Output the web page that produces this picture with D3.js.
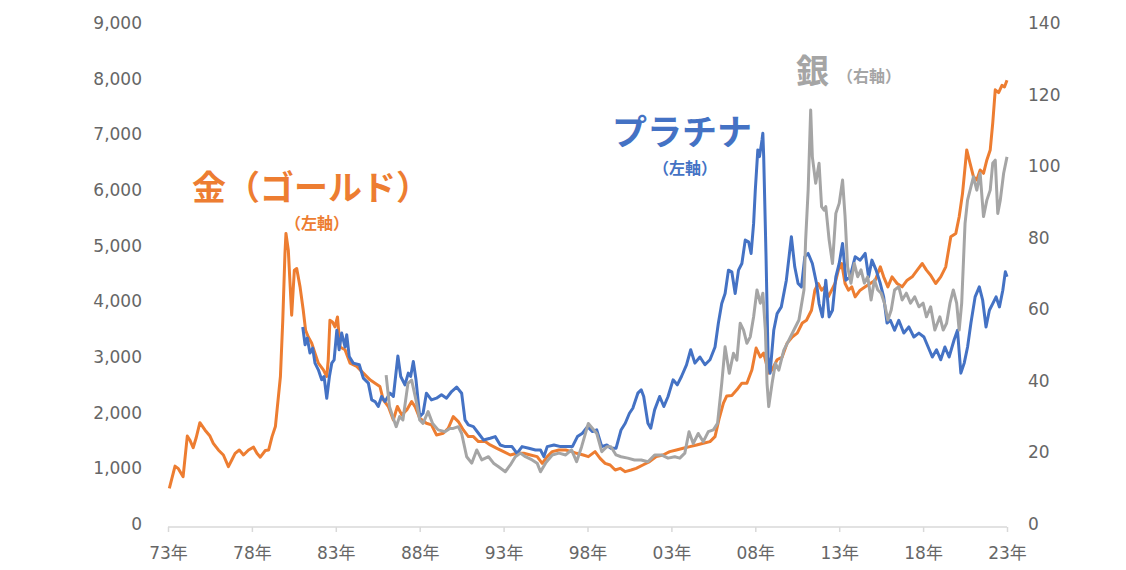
<!DOCTYPE html>
<html>
<head>
<meta charset="utf-8">
<script src="https://cdn.jsdelivr.net/npm/d3@7"></script>
<style>
  body { margin: 0; background: #fff; }
  .axis text { font-family: "DejaVu Sans", "Noto Sans CJK JP", sans-serif; font-size: 17px; fill: #666; }
  .note { font-family: "Noto Sans CJK JP", sans-serif; font-weight: 700; }
</style>
</head>
<body>
<svg id="chart" width="1126" height="570"></svg>
<script>
// tick labels
var xTickYears = [1973, 1978, 1983, 1988, 1993, 1998, 2003, 2008, 2013, 2018, 2023];
var xTickLabels = ['73年', '78年', '83年', '88年', '93年', '98年', '03年', '08年', '13年', '18年', '23年'];
var leftTicks = [0, 1000, 2000, 3000, 4000, 5000, 6000, 7000, 8000, 9000];
var rightTicks = [0, 20, 40, 60, 80, 100, 120, 140];

// gold (left axis) [year, value]
var gold = [[1973.08,640],[1973.42,1040],[1973.6,1000],[1973.9,850],[1974.15,1580],[1974.3,1510],[1974.5,1370],[1974.67,1540],[1974.9,1820],[1975.2,1690],[1975.5,1580],[1975.7,1450],[1976.0,1330],[1976.3,1240],[1976.6,1030],[1976.8,1150],[1977.0,1270],[1977.25,1330],[1977.5,1240],[1977.8,1330],[1978.1,1380],[1978.3,1270],[1978.5,1200],[1978.8,1320],[1979.0,1330],[1979.2,1570],[1979.4,1750],[1979.5,2050],[1979.7,2650],[1979.84,3660],[1979.97,4860],[1980.03,5220],[1980.17,4920],[1980.37,3750],[1980.53,4560],[1980.67,4590],[1980.87,4260],[1981.06,3840],[1981.2,3480],[1981.36,3360],[1981.56,3250],[1981.76,3070],[1981.96,2890],[1982.26,2770],[1982.46,2650],[1982.55,2950],[1982.65,3660],[1982.8,3630],[1982.95,3540],[1983.1,3720],[1983.25,3180],[1983.55,3130],[1983.85,2890],[1984.25,2830],[1984.64,2710],[1985.04,2590],[1985.34,2530],[1985.63,2470],[1985.83,2230],[1986.13,2110],[1986.43,1870],[1986.67,2110],[1986.93,1960],[1987.23,2050],[1987.52,2200],[1987.72,2110],[1988.0,1900],[1988.4,1810],[1988.7,1780],[1989.0,1600],[1989.4,1630],[1989.7,1720],[1990.0,1930],[1990.3,1840],[1990.6,1690],[1990.9,1570],[1991.2,1570],[1991.5,1480],[1991.9,1480],[1992.2,1420],[1992.6,1360],[1993.0,1300],[1993.4,1240],[1993.8,1270],[1994.2,1270],[1994.6,1240],[1995.0,1210],[1995.3,1090],[1995.6,1210],[1995.9,1300],[1996.3,1330],[1996.7,1330],[1997.05,1300],[1997.35,1270],[1997.75,1240],[1998.05,1210],[1998.45,1300],[1998.75,1180],[1999.05,1090],[1999.35,1060],[1999.65,970],[1999.95,1000],[2000.25,940],[2000.6,970],[2000.9,1000],[2001.3,1060],[2001.7,1120],[2002.1,1210],[2002.5,1240],[2002.9,1300],[2003.3,1330],[2003.7,1360],[2004.1,1390],[2004.5,1420],[2004.9,1450],[2005.3,1480],[2005.6,1570],[2005.85,1900],[2006.1,2170],[2006.3,2300],[2006.6,2310],[2006.9,2410],[2007.2,2530],[2007.5,2530],[2007.8,2770],[2008.05,3160],[2008.3,3000],[2008.5,3070],[2008.8,2710],[2009.0,2770],[2009.3,2950],[2009.6,3000],[2009.9,3250],[2010.2,3360],[2010.5,3430],[2010.8,3610],[2011.05,3660],[2011.35,3840],[2011.55,4200],[2011.75,4320],[2011.95,4200],[2012.15,4260],[2012.35,4080],[2012.55,4200],[2012.75,4320],[2012.95,4560],[2013.15,4680],[2013.35,4320],[2013.55,4200],[2013.75,4260],[2013.95,4080],[2014.25,4200],[2014.55,4260],[2014.85,4320],[2015.15,4380],[2015.45,4620],[2015.65,4440],[2015.9,4260],[2016.15,4440],[2016.45,4320],[2016.75,4260],[2017.05,4380],[2017.35,4440],[2017.65,4560],[2017.95,4680],[2018.2,4560],[2018.45,4470],[2018.75,4320],[2019.05,4440],[2019.35,4620],[2019.65,5160],[2019.95,5220],[2020.15,5520],[2020.35,5940],[2020.6,6720],[2020.8,6480],[2021.0,6240],[2021.2,6180],[2021.4,6360],[2021.6,6300],[2021.8,6540],[2022.0,6720],[2022.15,7200],[2022.3,7800],[2022.5,7750],[2022.7,7880],[2022.85,7850],[2023.0,7970]];

// platinum (left axis)
var platinum = [[1981.03,3540],[1981.17,3220],[1981.3,3340],[1981.46,3070],[1981.62,3160],[1981.76,2890],[1981.96,2770],[1982.16,2590],[1982.3,2650],[1982.46,2260],[1982.62,2650],[1982.76,2890],[1982.9,2950],[1983.06,3480],[1983.2,3130],[1983.35,3430],[1983.55,3180],[1983.65,3400],[1983.8,3010],[1984.04,2890],[1984.4,2860],[1984.64,2620],[1984.94,2530],[1985.14,2230],[1985.34,2200],[1985.53,2110],[1985.73,2290],[1985.93,2200],[1986.23,2350],[1986.43,2290],[1986.7,3020],[1986.87,2650],[1987.12,2500],[1987.32,2710],[1987.46,2650],[1987.62,2920],[1987.78,2590],[1988.0,1930],[1988.2,1990],[1988.4,2350],[1988.7,2230],[1989.0,2260],[1989.3,2320],[1989.6,2260],[1989.9,2380],[1990.2,2460],[1990.5,2350],[1990.7,1870],[1990.9,1780],[1991.2,1750],[1991.5,1630],[1991.8,1510],[1992.2,1540],[1992.5,1570],[1992.8,1420],[1993.1,1390],[1993.5,1390],[1993.8,1270],[1994.1,1390],[1994.5,1360],[1994.9,1330],[1995.2,1330],[1995.4,1210],[1995.6,1390],[1996.0,1420],[1996.4,1390],[1996.8,1390],[1997.1,1390],[1997.4,1570],[1997.7,1630],[1998.0,1750],[1998.3,1660],[1998.55,1690],[1998.85,1390],[1999.15,1420],[1999.4,1360],[1999.7,1360],[2000.0,1690],[2000.25,1810],[2000.5,1990],[2000.7,2080],[2001.0,2350],[2001.2,2410],[2001.35,2290],[2001.6,1810],[2001.77,1720],[2002.0,2050],[2002.3,2290],[2002.55,2110],[2002.8,2290],[2003.1,2590],[2003.35,2500],[2003.6,2650],[2003.9,2860],[2004.15,3130],[2004.4,2890],[2004.7,3000],[2005.0,2860],[2005.3,2950],[2005.6,3180],[2005.8,3610],[2006.0,3960],[2006.2,4140],[2006.4,4560],[2006.6,4530],[2006.8,4140],[2007.0,4560],[2007.2,4680],[2007.4,5100],[2007.6,5070],[2007.75,4860],[2007.9,5400],[2008.0,6000],[2008.15,6720],[2008.25,6600],[2008.4,6900],[2008.45,7020],[2008.5,6600],[2008.64,4800],[2008.76,3000],[2008.88,2710],[2009.1,3480],[2009.3,3780],[2009.55,3900],[2009.85,4380],[2010.15,5160],[2010.35,4620],[2010.55,4320],[2010.75,4260],[2010.95,4800],[2011.15,4860],[2011.4,4680],[2011.65,4320],[2011.8,3960],[2012.0,3720],[2012.2,4380],[2012.4,3720],[2012.6,3840],[2012.8,4440],[2013.0,4680],[2013.2,5040],[2013.4,4380],[2013.65,4440],[2013.95,4800],[2014.25,4740],[2014.55,4860],[2014.75,4440],[2014.95,4740],[2015.2,4560],[2015.45,4320],[2015.65,4080],[2015.85,3610],[2016.05,3660],[2016.3,3480],[2016.55,3660],[2016.85,3430],[2017.15,3540],[2017.45,3360],[2017.75,3430],[2018.05,3360],[2018.3,3180],[2018.55,3000],[2018.8,3130],[2019.05,2950],[2019.3,3180],[2019.55,3000],[2019.85,3310],[2020.05,3480],[2020.25,2710],[2020.45,2890],[2020.65,3180],[2020.85,3610],[2021.1,4080],[2021.35,4260],[2021.55,4020],[2021.75,3540],[2021.95,3840],[2022.15,3960],[2022.35,4080],[2022.55,3900],[2022.75,4200],[2022.9,4530],[2023.0,4440]];

// silver (right axis)
var silver = [[1986.0,41.6],[1986.2,32.8],[1986.43,29.5],[1986.6,27.2],[1986.8,30.0],[1987.0,29.1],[1987.3,39.3],[1987.52,40.2],[1987.78,34.6],[1988.0,29.1],[1988.2,28.1],[1988.5,31.4],[1988.77,28.1],[1989.1,26.3],[1989.5,25.8],[1989.8,26.7],[1990.0,26.7],[1990.3,27.2],[1990.5,25.3],[1990.8,18.8],[1991.1,17.0],[1991.4,20.7],[1991.7,17.9],[1992.1,18.8],[1992.4,17.0],[1992.7,16.0],[1993.1,14.6],[1993.4,16.5],[1993.7,18.8],[1994.0,19.8],[1994.3,18.8],[1994.7,17.9],[1995.0,17.0],[1995.2,14.6],[1995.5,17.0],[1995.9,19.3],[1996.3,19.8],[1996.7,19.3],[1997.05,20.7],[1997.35,17.4],[1997.65,21.6],[1998.05,28.1],[1998.3,26.7],[1998.55,25.3],[1998.85,20.2],[1999.15,21.6],[1999.4,21.6],[1999.7,19.3],[2000.0,18.8],[2000.4,18.4],[2000.8,17.9],[2001.2,17.9],[2001.6,17.4],[2002.0,19.3],[2002.4,19.3],[2002.8,18.4],[2003.2,18.8],[2003.5,18.4],[2003.8,19.8],[2004.05,25.8],[2004.3,22.5],[2004.6,25.3],[2004.9,23.0],[2005.2,25.8],[2005.5,26.3],[2005.75,28.1],[2006.0,39.3],[2006.2,49.5],[2006.45,42.1],[2006.7,47.7],[2006.9,45.8],[2007.1,56.1],[2007.3,54.2],[2007.5,50.5],[2007.7,52.3],[2007.9,57.9],[2008.1,65.4],[2008.3,61.7],[2008.45,64.5],[2008.6,54.2],[2008.7,39.3],[2008.8,32.8],[2009.0,39.3],[2009.2,44.9],[2009.4,43.0],[2009.7,48.6],[2010.0,51.4],[2010.3,54.2],[2010.6,57.0],[2010.9,65.4],[2011.0,79.4],[2011.15,93.3],[2011.3,115.7],[2011.4,102.6],[2011.6,95.2],[2011.8,100.8],[2011.95,88.7],[2012.1,87.7],[2012.2,88.7],[2012.4,79.4],[2012.6,72.8],[2012.8,86.8],[2013.0,89.6],[2013.2,96.1],[2013.35,85.9],[2013.5,71.9],[2013.7,67.3],[2013.9,72.8],[2014.1,69.1],[2014.3,71.0],[2014.5,67.3],[2014.7,69.1],[2014.9,62.6],[2015.1,68.2],[2015.3,65.4],[2015.5,64.5],[2015.7,61.7],[2015.9,57.0],[2016.1,59.8],[2016.3,65.4],[2016.55,66.3],[2016.75,62.6],[2017.0,64.5],[2017.25,61.7],[2017.5,63.5],[2017.75,60.7],[2018.0,61.7],[2018.2,57.9],[2018.45,60.7],[2018.7,54.2],[2019.0,57.9],[2019.2,54.2],[2019.4,56.1],[2019.6,61.7],[2019.8,65.4],[2020.0,61.7],[2020.15,54.2],[2020.3,61.7],[2020.5,84.0],[2020.65,90.5],[2020.8,93.3],[2021.0,97.0],[2021.2,93.3],[2021.4,98.0],[2021.6,85.9],[2021.8,90.5],[2022.0,93.3],[2022.15,100.8],[2022.3,101.7],[2022.45,86.8],[2022.6,90.5],[2022.8,98.0],[2023.0,102.6]];

var svg = d3.select('#chart');

var x = d3.scaleLinear().domain([1973, 2023]).range([168, 1007]);
var yL = d3.scaleLinear().domain([0, 9000]).range([524, 23]);
var yR = d3.scaleLinear().domain([0, 140]).range([524, 23]);

// left axis
var axL = svg.append('g').attr('class', 'axis').attr('transform', 'translate(142,0)')
  .call(d3.axisLeft(yL).tickValues(leftTicks).tickSize(0).tickPadding(0).tickFormat(d3.format(',')));
axL.select('.domain').remove();

// right axis
var axR = svg.append('g').attr('class', 'axis').attr('transform', 'translate(1028,0)')
  .call(d3.axisRight(yR).tickValues(rightTicks).tickSize(0).tickPadding(0));
axR.select('.domain').remove();

// bottom axis
var axB = svg.append('g').attr('class', 'axis').attr('transform', 'translate(0,527)')
  .call(d3.axisBottom(x).tickValues(xTickYears).tickSize(5).tickPadding(15)
    .tickFormat(function (d, i) { return xTickLabels[i]; }));
axB.select('.domain').attr('stroke', '#d9d9d9').attr('stroke-width', 1.5).attr('d', 'M168,0H1007');
axB.selectAll('line').attr('stroke', '#d9d9d9').attr('stroke-width', 1.5);

function lineL(d) { return d3.line().x(function (p) { return x(p[0]); }).y(function (p) { return yL(p[1]); })(d); }
function lineR(d) { return d3.line().x(function (p) { return x(p[0]); }).y(function (p) { return yR(p[1]); })(d); }

svg.append('path').attr('d', lineL(gold)).attr('fill', 'none').attr('stroke', '#ED7D31')
  .attr('stroke-width', 3).attr('stroke-linejoin', 'round');
svg.append('path').attr('d', lineL(platinum)).attr('fill', 'none').attr('stroke', '#4472C4')
  .attr('stroke-width', 3).attr('stroke-linejoin', 'round');
svg.append('path').attr('d', lineR(silver)).attr('fill', 'none').attr('stroke', '#A5A5A5')
  .attr('stroke-width', 3).attr('stroke-linejoin', 'round');

// annotations
function note(txt, px, py, size, color, anchor) {
  svg.append('text').attr('class', 'note').attr('x', px).attr('y', py)
    .attr('font-size', size).attr('fill', color).attr('text-anchor', anchor || 'start')
    .attr('dominant-baseline', 'central').text(txt);
}
note('金（ゴールド）', 192, 185, 34, '#ED7D31');
note('（左軸）', 317, 222, 16, '#ED7D31', 'middle');
note('プラチナ', 612, 129, 35, '#4472C4');
note('（左軸）', 685, 167, 16, '#4472C4', 'middle');
note('銀', 796, 69, 33, '#A5A5A5');
note('（右軸）', 869, 75, 16, '#A5A5A5', 'middle');
</script>
</body>
</html>
